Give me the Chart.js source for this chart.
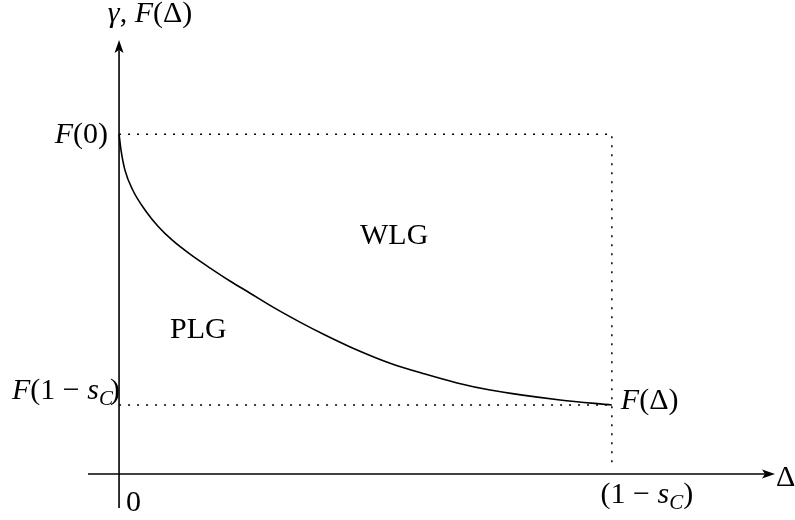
<!DOCTYPE html>
<html>
<head>
<meta charset="utf-8">
<script src="https://cdn.jsdelivr.net/npm/chart.js@4/dist/chart.umd.min.js"></script>
<style>
  html, body { margin: 0; padding: 0; background: #fff; }
  #wrap { width: 795px; height: 520px; }
</style>
</head>
<body>
<div id="wrap"><canvas id="chart"></canvas></div>
<script>
// curve gamma = F(Delta), Delta from 0 to (1 - s_C), F(0) = 1
const curveX = [0, 0.004, 0.012, 0.028, 0.053, 0.079, 0.108, 0.144, 0.185, 0.225, 0.266,
  0.316, 0.367, 0.418, 0.469, 0.550, 0.621, 0.686, 0.753, 0.819, 0.895, 1.0];
const curveY = [1.0, 0.953, 0.894, 0.835, 0.776, 0.729, 0.688, 0.647, 0.606, 0.568, 0.532,
  0.488, 0.447, 0.409, 0.374, 0.326, 0.294, 0.268, 0.247, 0.232, 0.218, 0.203];
const xEnd = 1.0;      // (1 - s_C)
const fTop = 1.0;      // F(0)
const fEnd = 0.203;    // F(1 - s_C)
const xRange = [-0.063, 1.331];
const yRange = [-0.1, 1.277];

const pts = (xs, ys) => xs.map((x, i) => ({ x: x, y: ys[i] }));

const serif = '"Liberation Serif", "Times New Roman", serif';

// draw a run of mixed italic / upright / subscript text
function drawRuns(ctx, runs, x, y, align) {
  const size = 30;
  const font = (r) => (r.it ? "italic " : "") + (r.sub ? 21 : size) + "px " + serif;
  let w = 0;
  runs.forEach((r) => { ctx.font = font(r); w += ctx.measureText(r.t).width + (r.kern || 0); });
  let cx = align === "right" ? x - w : align === "center" ? x - w / 2 : x;
  ctx.textBaseline = "alphabetic";
  ctx.textAlign = "left";
  runs.forEach((r) => {
    ctx.font = font(r);
    ctx.fillText(r.t, cx, y + (r.sub ? 6 : 0));
    cx += ctx.measureText(r.t).width + (r.kern || 0);
  });
}

const axesPlugin = {
  id: "axesLabels",
  afterDatasetsDraw(chart) {
    const ctx = chart.ctx;
    const xs = chart.scales.x, ys = chart.scales.y;
    const x0 = xs.getPixelForValue(0), y0 = ys.getPixelForValue(0);
    const xr = xs.getPixelForValue(xRange[1]), yt = ys.getPixelForValue(yRange[1]);
    ctx.save();
    ctx.fillStyle = "#000";
    // arrow heads
    ctx.beginPath();
    ctx.moveTo(xr, y0);
    ctx.lineTo(xr - 13, y0 - 4.5);
    ctx.lineTo(xr - 10, y0);
    ctx.lineTo(xr - 13, y0 + 4.5);
    ctx.closePath();
    ctx.fill();
    ctx.beginPath();
    ctx.moveTo(x0, yt);
    ctx.lineTo(x0 - 4.5, yt + 13);
    ctx.lineTo(x0, yt + 10);
    ctx.lineTo(x0 + 4.5, yt + 13);
    ctx.closePath();
    ctx.fill();

    const pxEnd = xs.getPixelForValue(xEnd);
    const pyTop = ys.getPixelForValue(fTop);
    const pyEnd = ys.getPixelForValue(fEnd);

    drawRuns(ctx, [{ t: "γ", it: true }, { t: ", " }, { t: "F", it: true }, { t: "(Δ)" }], x0 + 31, 22, "center");
    drawRuns(ctx, [{ t: "F", it: true }, { t: "(0)" }], x0 - 11, pyTop + 9, "right");
    drawRuns(ctx, [{ t: "F", it: true }, { t: "(1 − " }, { t: "s", it: true }, { t: "C", it: true, sub: true, kern: -3 }, { t: ")" }], 12, pyEnd - 6, "left");
    drawRuns(ctx, [{ t: "F", it: true }, { t: "(Δ)" }], pxEnd + 9, pyEnd + 4, "left");
    drawRuns(ctx, [{ t: "0" }], x0 + 7, y0 + 37, "left");
    drawRuns(ctx, [{ t: "(1 − " }, { t: "s", it: true }, { t: "C", it: true, sub: true }, { t: ")" }], pxEnd + 35, y0 + 29, "center");
    drawRuns(ctx, [{ t: "Δ" }], xr + 1, y0 + 12, "left");
    drawRuns(ctx, [{ t: "WLG" }], 360, 244, "left");
    drawRuns(ctx, [{ t: "PLG" }], 170, 338, "left");
    ctx.restore();
  }
};

const dotted = { borderColor: "#000", borderWidth: 1.5, borderDash: [2, 7], pointRadius: 0, fill: false, tension: 0 };
const solid = { borderColor: "#000", borderWidth: 1.6, pointRadius: 0, fill: false, tension: 0 };

function build() {
  new Chart(document.getElementById("chart").getContext("2d"), {
    type: "scatter",
    data: {
      datasets: [
        { ...dotted, showLine: true, data: pts([0, xEnd, xEnd], [fTop, fTop, 0.02]) },
        { ...dotted, showLine: true, data: pts([0, xEnd], [fEnd, fEnd]) },
        { ...solid, showLine: true, data: pts([xRange[0], xRange[1] - 0.015], [0, 0]) },
        { ...solid, showLine: true, data: pts([0, 0], [yRange[0], yRange[1] - 0.03]) },
        { ...solid, showLine: true, cubicInterpolationMode: "monotone", data: pts(curveX, curveY) },
      ],
    },
    options: {
      responsive: true,
      maintainAspectRatio: false,
      animation: false,
      layout: { padding: { left: 88, right: 20, top: 40, bottom: 12 } },
      plugins: { legend: { display: false }, tooltip: { enabled: false } },
      scales: {
        x: { type: "linear", min: xRange[0], max: xRange[1], display: false },
        y: { type: "linear", min: yRange[0], max: yRange[1], display: false },
      },
    },
    plugins: [axesPlugin],
  });
}

Promise.all([
  document.fonts.load('30px "Liberation Serif"'),
  document.fonts.load('italic 30px "Liberation Serif"'),
]).then(build, build);
</script>
</body>
</html>
